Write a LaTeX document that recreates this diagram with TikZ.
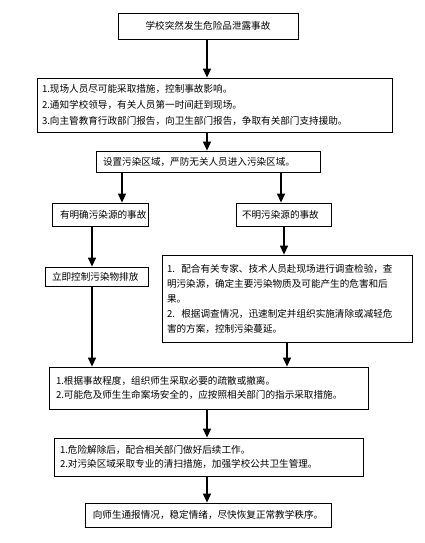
\documentclass[tikz,border=0pt]{standalone}
\usepackage{fontspec}
\newfontfamily\cjk{Noto Sans CJK SC}
\usetikzlibrary{arrows.meta}

\begin{document}
\begin{tikzpicture}[x=1pt, y=-1pt,
  every node/.style={draw, line width=0.8pt, inner ysep=0pt, font=\cjk\fontsize{9.6}{15}\selectfont},
  leftbox/.style={align=left},
  arrow/.style={-{Triangle[width=8pt,length=9pt]}, line width=1.3pt}
]
  \useasboundingbox (0,0) rectangle (425,543);
  \node (b1) at (208,26) [minimum width=180pt, minimum height=26pt] {学校突然发生危险品泄露事故};
  \node (b2) at (214.5,105) [leftbox, minimum height=54pt, inner xsep=5pt, text width=345pt,
    font=\cjk\fontsize{9.6}{16}\selectfont]
    {1.现场人员尽可能采取措施，控制事故影响。\\
     2.通知学校领导，有关人员第一时间赶到现场。\\
     3.向主管教育行政部门报告，向卫生部门报告，争取有关部门支持援助。};
  \node (b3) at (208,161.5) [leftbox, minimum height=21pt, inner xsep=7pt, text width=210pt]
    {设置污染区域，严防无关人员进入污染区域。};
  \node (b4a) at (100,214.5) [leftbox, minimum height=23pt, inner xsep=8pt, text width=80pt]
    {有明确污染源的事故};
  \node (b4b) at (283.5,214.5) [leftbox, minimum height=23pt, inner xsep=6pt, text width=83pt]
    {不明污染源的事故};
  \node (b5a) at (96.5,276.5) [leftbox, minimum height=19pt, inner xsep=7pt, text width=89pt]
    {立即控制污染物排放};
  \node (b5b) at (287,298.5) [leftbox, minimum height=87pt, inner xsep=5pt, text width=240pt]
    {1.~~配合有关专家、技术人员赴现场进行调查检验，查\\
     明污染源，确定主要污染物质及可能产生的危害和后\\
     果。\\
     2.~~根据调查情况，迅速制定并组织实施清除或减轻危\\
     害的方案，控制污染蔓延。};
  \node (b6) at (208.5,388) [leftbox, minimum height=42pt, inner xsep=7pt, text width=305pt,
    font=\cjk\fontsize{9.6}{14}\selectfont]
    {1.根据事故程度，组织师生采取必要的疏散或撤离。\\
     2.可能危及师生生命案场安全的，应按照相关部门的指示采取措施。};
  \node (b7) at (208.5,457) [leftbox, minimum height=38pt, inner xsep=6pt, text width=297pt,
    font=\cjk\fontsize{9.6}{14}\selectfont]
    {1.危险解除后，配合相关部门做好后续工作。\\
     2.对污染区域采取专业的清扫措施，加强学校公共卫生管理。};
  \node (b8) at (208,515) [minimum width=246pt, minimum height=24pt]
    {向师生通报情况，稳定情绪，尽快恢复正常教学秩序。};
  % arrow columns
  \coordinate (cm) at (207,0);
  \coordinate (cl1) at (122,0);
  \coordinate (cr1) at (281,0);
  \coordinate (cl2) at (92,0);
  \coordinate (cr2) at (284,0);
  \coordinate (cr3) at (287,0);
  \foreach \i/\j/\c in {b1/b2/cm, b2/b3/cm, b3/b4a/cl1, b3/b4b/cr1, b4a/b5a/cl2, b4b/b5b/cr2,
                        b5a/b6/cl2, b5b/b6/cr3, b6/b7/cm, b7/b8/cm}
    \draw[arrow] (\i.south -| \c) -- (\j.north -| \c);
\end{tikzpicture}
\end{document}
